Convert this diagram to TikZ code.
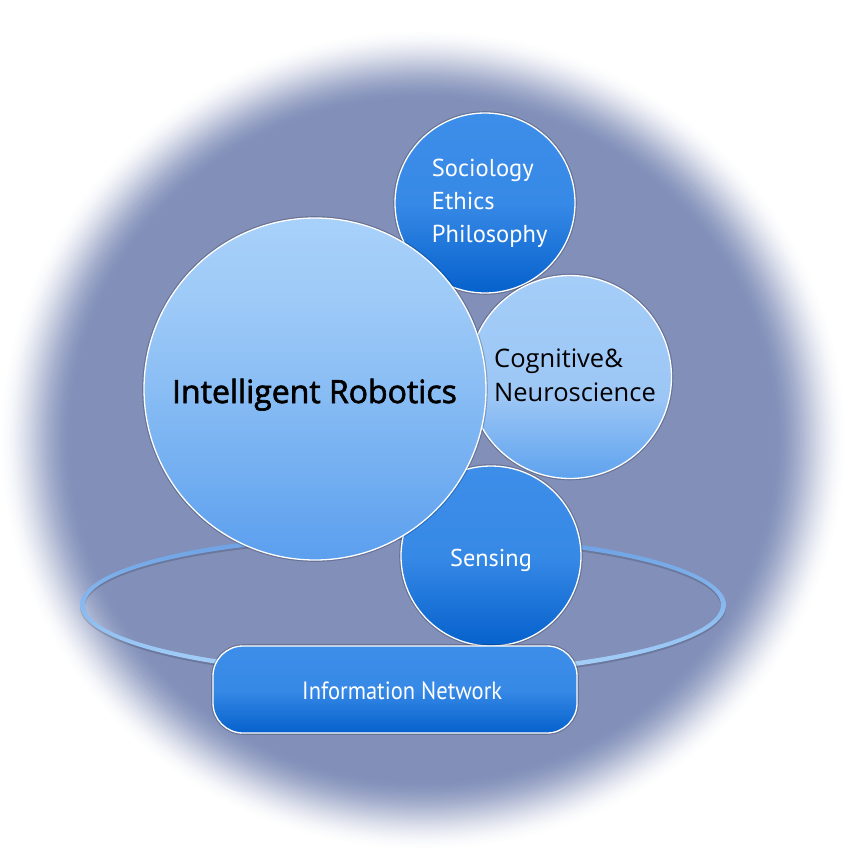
\documentclass[tikz,border=0pt]{standalone}
\usepackage{fontspec}
\newfontfamily\osans{Open Sans}
\newfontfamily\osansb[FakeBold=2]{Open Sans}
\newfontfamily\pts{PT Sans}
\definecolor{glowc}{RGB}{129,143,185}
\definecolor{lbA}{RGB}{168,209,250}
\definecolor{lbB}{RGB}{156,201,247}
\definecolor{lbC}{RGB}{137,189,244}
\definecolor{lbD}{RGB}{91,159,238}
\definecolor{cgA}{RGB}{164,205,248}
\definecolor{cgB}{RGB}{156,198,245}
\definecolor{cgD}{RGB}{94,162,238}
\definecolor{dbA}{RGB}{60,142,233}
\definecolor{dbB}{RGB}{55,137,230}
\definecolor{dbD}{RGB}{5,97,204}
\definecolor{ringtop}{RGB}{106,159,226}
\definecolor{ringbot}{RGB}{168,210,250}
\pgfdeclareverticalshading{lightballsh}{100bp}{color(0bp)=(lbD); color(25bp)=(lbD); color(50bp)=(lbC); color(62bp)=(lbB); color(75bp)=(lbA); color(100bp)=(lbA)}
\pgfdeclareverticalshading{cogballsh}{100bp}{color(0bp)=(cgD); color(25bp)=(cgD); color(45bp)=(cgB); color(75bp)=(cgA); color(100bp)=(cgA)}
\pgfdeclareverticalshading{darkballsh}{100bp}{color(0bp)=(dbD); color(25bp)=(dbD); color(50bp)=(dbB); color(75bp)=(dbA); color(100bp)=(dbA)}
\tikzset{
  rim/.style={draw=white, line width=1.3pt, preaction={draw=black, draw opacity=0.2, line width=3.6pt}},
  lightball/.style={circle, inner sep=0pt, rim, shade, shading=lightballsh},
  cogball/.style={circle, inner sep=0pt, rim, shade, shading=cogballsh},
  darkball/.style={circle, inner sep=0pt, rim, shade, shading=darkballsh},
  darkbox/.style={rectangle, inner sep=0pt, rim, shade, shading=darkballsh},
  lbl/.style={inner sep=0pt},
}
\begin{document}
\begin{tikzpicture}[x=1pt,y=-1pt]
\useasboundingbox (0,0) rectangle (845,860);
\fill[white] (0,0) rectangle (845,860);
% background glow
\foreach \i in {0,...,90}{
  \pgfmathsetmacro\t{1-\i*0.002}
  \pgfmathsetmacro\s{\i/90}
  \pgfmathsetmacro\p{100*(3*\s*\s-2*\s*\s*\s)}
  \fill[glowc!\p!white] (423,440) ellipse [x radius={425pt*\t}, y radius={412pt*\t}];
}
% ring with drop shadow
\fill[black, opacity=0.16, even odd rule] (403,607) ellipse [x radius=323pt, y radius=72pt] (403,607) ellipse [x radius=318pt, y radius=67pt];
\shade[even odd rule, top color=ringtop, bottom color=ringbot] (403,605) ellipse [x radius=323pt, y radius=72pt] (403,605) ellipse [x radius=318pt, y radius=67pt];
% balls
\node[darkball, minimum size=180pt] (soc) at (485,203) {};
\node[darkball, minimum size=180pt] (sens) at (491,556) {};
\node[cogball, minimum size=203pt] (cog) at (570,377) {};
\node[lightball, minimum size=342pt] (robo) at (315,389) {};
\node[darkbox, rounded corners=30pt, minimum width=364pt, minimum height=87pt] (info) at (395,689.5) {};
% labels
\node[lbl, text=white, font=\pts\fontsize{24.5}{33.3}\selectfont, align=left] (soc-t) at (489.7,203.3) {Sociology\\Ethics\\Philosophy};
\node[lbl, text=white, font=\pts\fontsize{24.3}{28}\selectfont, anchor=base] (sens-t) at (491,566) {Sensing};
\node[lbl, font=\osans\fontsize{25.5}{34}\selectfont, align=left] (cog-t) at (575,375.5) {Cognitive\&\\Neuroscience};
\node[lbl, font=\osansb\fontsize{32}{38}\selectfont, anchor=base] (robo-t) at (314.5,403) {Intelligent Robotics};
\node[lbl, text=white, font=\pts\fontsize{25}{30}\selectfont, anchor=base] (info-t) at (402.2,699.3) {\scalebox{0.9}[1]{Information Network}};
\end{tikzpicture}
\end{document}
